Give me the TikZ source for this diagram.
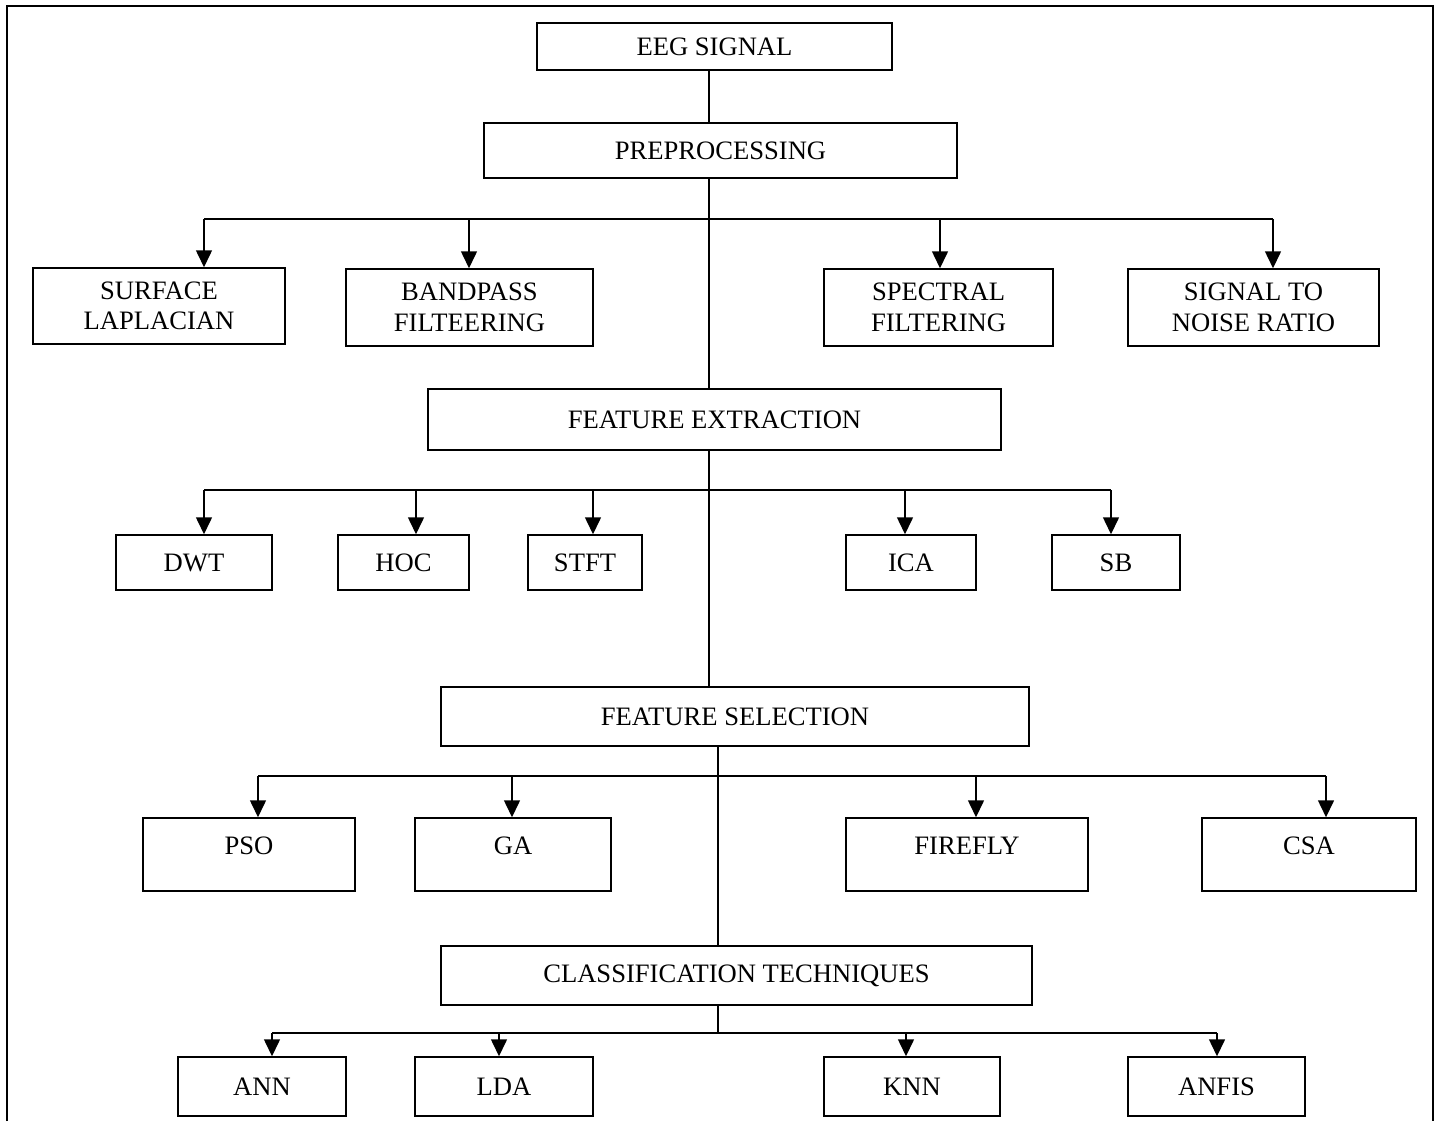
\documentclass[tikz,border=0pt]{standalone}
\usepackage{fontspec}
\setmainfont{Liberation Serif}
\usetikzlibrary{arrows.meta}

\begin{document}
\begin{tikzpicture}[x=0.5pt, y=-0.5pt,
        blk/.style={draw, line width=0.75pt, align=center, inner sep=0pt,
                font=\fontsize{13.3}{15.2}\selectfont},
        raised/.style={text depth=9pt},
        wire/.style={line width=0.75pt},
        arr/.style={wire, -{Triangle[length=8.5pt, width=8pt]}}]
        \useasboundingbox (0,0) rectangle (1439,1121);
        \draw [line width=1.4pt] (7,1121) -- (7,6) -- (1433,6) -- (1433,1121);
        %
        \node [blk, minimum width=177.5pt, minimum height=23.5pt] (eeg) at (714.5,46.5) {EEG SIGNAL};
        \node [blk, minimum width=236.5pt, minimum height=27.5pt] (pre) at (720.5,150.5) {PREPROCESSING};
        \node [blk, minimum width=286.5pt, minimum height=30.5pt] (fe) at (714.5,419.5) {FEATURE EXTRACTION};
        \node [blk, minimum width=294pt, minimum height=29.5pt] (fs) at (735,716.5) {FEATURE SELECTION};
        \node [blk, minimum width=295.5pt, minimum height=29.5pt] (ct) at (736.5,975.5) {CLASSIFICATION TECHNIQUES};
        %
        \node [blk, minimum width=126pt, minimum height=38pt] (surf) at (159,306) {SURFACE\\LAPLACIAN};
        \node [blk, minimum width=123.5pt, minimum height=38.5pt] (band) at (469.5,307.5) {BANDPASS\\FILTEERING};
        \node [blk, minimum width=114.5pt, minimum height=38.5pt] (spec) at (938.5,307.5) {SPECTRAL\\FILTERING};
        \node [blk, minimum width=125.5pt, minimum height=38.5pt] (snr) at (1253.5,307.5) {SIGNAL TO\\NOISE RATIO};
        %
        \node [blk, minimum width=78pt, minimum height=27.5pt] (dwt) at (194,562.5) {DWT};
        \node [blk, minimum width=65.5pt, minimum height=27.5pt] (hoc) at (403.5,562.5) {HOC};
        \node [blk, minimum width=57pt, minimum height=27.5pt] (stft) at (585,562.5) {STFT};
        \node [blk, minimum width=65pt, minimum height=27.5pt] (ica) at (911,562.5) {ICA};
        \node [blk, minimum width=64pt, minimum height=27.5pt] (sb) at (1116,562.5) {SB};
        %
        \node [blk, raised, minimum width=106pt, minimum height=36.5pt] (pso) at (249,854.5) {PSO};
        \node [blk, raised, minimum width=98pt, minimum height=36.5pt] (ga) at (513,854.5) {GA};
        \node [blk, raised, minimum width=121pt, minimum height=36.5pt] (fire) at (967,854.5) {FIREFLY};
        \node [blk, raised, minimum width=107pt, minimum height=36.5pt] (csa) at (1309,854.5) {CSA};
        %
        \node [blk, minimum width=84pt, minimum height=29.5pt] (ann) at (262,1086.5) {ANN};
        \node [blk, minimum width=89pt, minimum height=29.5pt] (lda) at (504,1086.5) {LDA};
        \node [blk, minimum width=88pt, minimum height=29.5pt] (knn) at (912,1086.5) {KNN};
        \node [blk, minimum width=88.5pt, minimum height=29.5pt] (anfis) at (1216.5,1086.5) {ANFIS};
        %
        \coordinate (ta) at (709,0);
        \coordinate (tb) at (718,0);
        \coordinate (r1a) at (204,219);
        \coordinate (r1b) at (469,219);
        \coordinate (r1c) at (940,219);
        \coordinate (r1d) at (1273,219);
        \coordinate (r2a) at (204,490);
        \coordinate (r2b) at (416,490);
        \coordinate (r2c) at (593,490);
        \coordinate (r2d) at (905,490);
        \coordinate (r2e) at (1111,490);
        \coordinate (r3a) at (258,776);
        \coordinate (r3b) at (512,776);
        \coordinate (r3c) at (976,776);
        \coordinate (r3d) at (1326,776);
        \coordinate (r4a) at (272,1033);
        \coordinate (r4b) at (499,1033);
        \coordinate (r4c) at (906,1033);
        \coordinate (r4d) at (1217,1033);
        %
        \draw [wire] (eeg.south -| ta) -- (pre.north -| ta);
        \draw [wire] (pre.south -| ta) -- (fe.north -| ta);
        \draw [wire] (fe.south -| ta) -- (fs.north -| ta);
        \draw [wire] (fs.south -| tb) -- (ct.north -| tb);
        \draw [wire] (ct.south -| tb) -- (r4a -| tb);
        %
        \draw [wire] (r1a) -- (r1d);
        \draw [arr] (r1a) -- (surf.north -| r1a);
        \draw [arr] (r1b) -- (band.north -| r1b);
        \draw [arr] (r1c) -- (spec.north -| r1c);
        \draw [arr] (r1d) -- (snr.north -| r1d);
        %
        \draw [wire] (r2a) -- (r2e);
        \draw [arr] (r2a) -- (dwt.north -| r2a);
        \draw [arr] (r2b) -- (hoc.north -| r2b);
        \draw [arr] (r2c) -- (stft.north -| r2c);
        \draw [arr] (r2d) -- (ica.north -| r2d);
        \draw [arr] (r2e) -- (sb.north -| r2e);
        %
        \draw [wire] (r3a) -- (r3d);
        \draw [arr] (r3a) -- (pso.north -| r3a);
        \draw [arr] (r3b) -- (ga.north -| r3b);
        \draw [arr] (r3c) -- (fire.north -| r3c);
        \draw [arr] (r3d) -- (csa.north -| r3d);
        %
        \draw [wire] (r4a) -- (r4d);
        \draw [arr] (r4a) -- (ann.north -| r4a);
        \draw [arr] (r4b) -- (lda.north -| r4b);
        \draw [arr] (r4c) -- (knn.north -| r4c);
        \draw [arr] (r4d) -- (anfis.north -| r4d);
\end{tikzpicture}
\end{document}
